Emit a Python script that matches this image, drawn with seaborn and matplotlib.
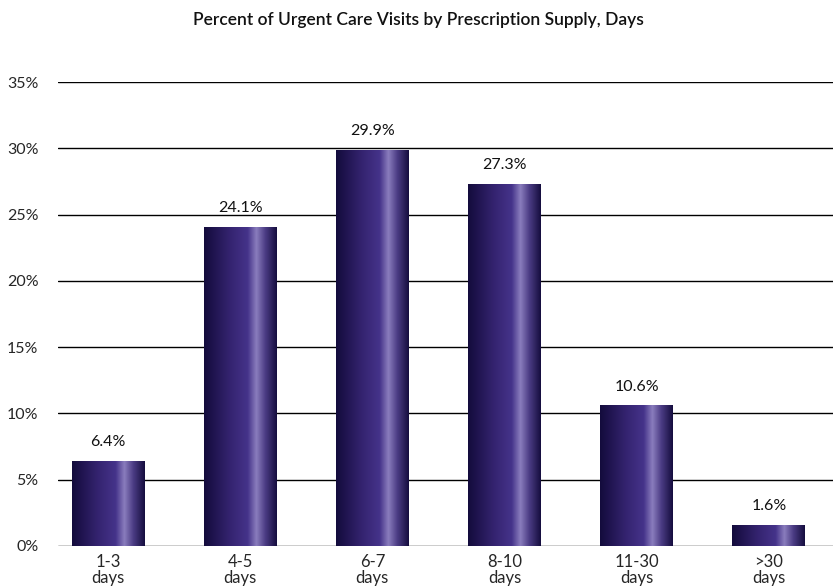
import numpy as np
import pandas as pd
import matplotlib
matplotlib.use("Agg")
import matplotlib.pyplot as plt
from matplotlib.colors import LinearSegmentedColormap
import seaborn as sns

categories = ["1-3\ndays", "4-5\ndays", "6-7\ndays", "8-10\ndays", "11-30\ndays", ">30\ndays"]
percents = [6.4, 24.1, 29.9, 27.3, 10.6, 1.6]
yticks = [0, 5, 10, 15, 20, 25, 30, 35]

df = pd.DataFrame({"supply": categories, "pct": percents})

sns.set_style("white")
plt.rcParams["font.family"] = ["Lato", "DejaVu Sans"]

fig = plt.figure(figsize=(8.37, 5.86), dpi=100)
ax = fig.add_axes([0.0693, 0.0683, 0.9257, 0.7917])

sns.barplot(data=df, x="supply", y="pct", color="#3b2a7a", width=0.55, ax=ax)

# horizontal gradient shading on each bar
cmap = LinearSegmentedColormap.from_list(
    "bar", [(0.0, "#130b3c"), (0.35, "#34236f"), (0.6, "#45338a"),
            (0.72, "#8a7dbd"), (0.84, "#4c3d85"), (1.0, "#150d3e")])
grad = np.linspace(0, 1, 256).reshape(1, -1)
for p in ax.patches:
    x0, y0 = p.get_x(), p.get_y()
    w, h = p.get_width(), p.get_height()
    im = ax.imshow(grad, cmap=cmap, aspect="auto", extent=[x0, x0 + w, y0, y0 + h], zorder=3)
    im.set_clip_path(p)
    p.set_edgecolor("none")

for i, v in enumerate(percents):
    ax.text(i, v + 0.9, f"{v:.1f}%", ha="center", va="bottom", fontsize=11.5, color="#111111")

ax.set_xlim(-0.378, 5.484)
ax.set_ylim(0, 35)
ax.set_yticks(yticks)
ax.set_yticklabels([f"{t}%" for t in yticks], fontsize=11.5)
ax.tick_params(axis="x", labelsize=12, length=0, pad=6)
ax.tick_params(axis="y", length=0, pad=14)
for t in ax.get_xticklabels():
    t.set_linespacing(1.0)
ax.yaxis.grid(True, color="black", linewidth=1)
ax.set_axisbelow(True)
for s in ax.spines.values():
    s.set_visible(False)
ax.set_xlabel("")
ax.set_ylabel("")

fig.text(0.5, 1 - 20 / 586, "Percent of Urgent Care Visits by Prescription Supply, Days",
         ha="center", va="center", fontsize=12.5, fontweight="semibold", color="#111111")

fig.savefig("out.png", dpi=100)
